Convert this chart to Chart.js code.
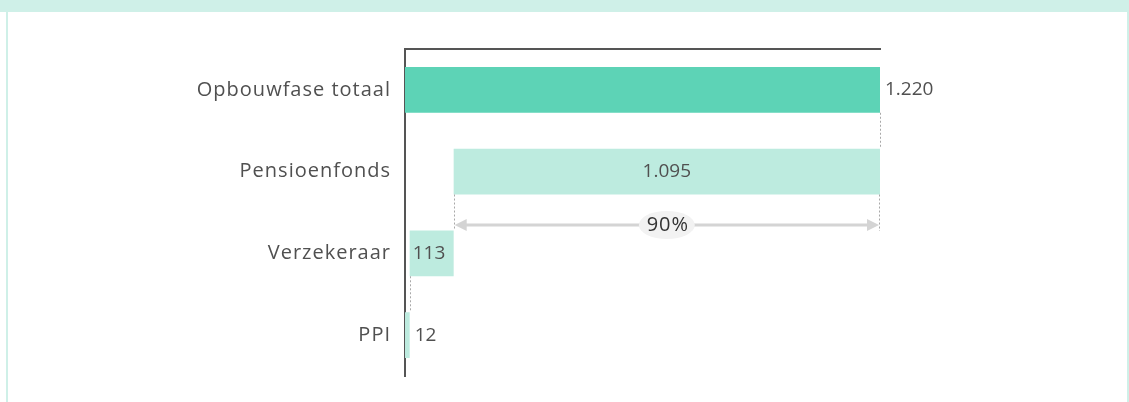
<!DOCTYPE html>
<html>
<head>
<meta charset="utf-8">
<script src="https://cdn.jsdelivr.net/npm/chart.js@4/dist/chart.umd.min.js"></script>
<style>
  html, body { margin: 0; padding: 0; background: #ffffff; }
  #wrap { position: relative; width: 1129px; height: 402px; overflow: hidden; }
  .band { position: absolute; background: #cff0e8; }
  #top { left: 0; top: 0; width: 1129px; height: 12px; }
  #left { left: 6px; top: 12px; width: 2px; height: 390px; }
  #right { left: 1127px; top: 12px; width: 2px; height: 390px; }
  canvas { position: absolute; left: 0; top: 0; }
</style>
</head>
<body>
<div id="wrap">
  <div class="band" id="top"></div>
  <div class="band" id="left"></div>
  <div class="band" id="right"></div>
  <canvas id="chart" width="1129" height="402"></canvas>
</div>
<script>
// Pension capital by provider, accumulation phase (waterfall)
const categories = ['Opbouwfase totaal', 'Pensioenfonds', 'Verzekeraar', 'PPI'];
const values = [1220, 1095, 113, 12];
const isTotal = [true, false, false, false];

const totalColor = '#5dd3b6';
const partColor = '#bdebdf';
const textColor = '#505050';
const fontFamily = "'Open Sans', 'DejaVu Sans', sans-serif";

// Floating ranges: the total starts at zero, each part sits on the parts below it
const ranges = values.map((v, i) => {
  if (isTotal[i]) return [0, v];
  let start = 0;
  for (let j = i + 1; j < values.length; j++) start += values[j];
  return [start, start + v];
});

function formatNL(n) {
  return String(Math.round(n)).replace(/\B(?=(\d{3})+(?!\d))/g, '.');
}

// wide, airy lettering for the category labels
const spacing = {
  id: 'spacing',
  beforeDraw(chart) { chart.ctx.letterSpacing = '1px'; },
  afterDraw(chart) { chart.ctx.letterSpacing = '0px'; }
};

const waterfallExtras = {
  id: 'waterfallExtras',
  afterDatasetsDraw(chart) {
    const ctx = chart.ctx;
    const meta = chart.getDatasetMeta(0);
    const x = chart.scales.x;
    const bars = meta.data;

    ctx.save();
    ctx.letterSpacing = '0px';
    // dotted connectors between consecutive bars
    ctx.strokeStyle = '#a8a8a8';
    ctx.lineWidth = 1;
    ctx.setLineDash([2, 2]);
    for (let i = 0; i < bars.length - 1; i++) {
      const a = bars[i], b = bars[i + 1];
      const aBottom = a.y + a.height / 2;
      const bTop = b.y - b.height / 2;
      const xv = isTotal[i] ? ranges[i][1] : ranges[i][0];
      const px = Math.round(x.getPixelForValue(xv)) + 0.5;
      ctx.beginPath();
      ctx.moveTo(px, aBottom);
      ctx.lineTo(px, bTop);
      ctx.stroke();
    }

    // share of the largest part in the total
    const part = 1;
    const pb = bars[part];
    const pBottom = pb.y + pb.height / 2;
    const nextTop = bars[part + 1].y - bars[part + 1].height / 2;
    const ay = Math.round(pBottom + (nextTop - pBottom) * 0.86);
    const x0 = x.getPixelForValue(ranges[part][0]);
    const x1 = x.getPixelForValue(ranges[part][1]);
    const rx = Math.round(x1) - 0.5;
    ctx.beginPath();
    ctx.moveTo(rx, pBottom);
    ctx.lineTo(rx, ay + 6);
    ctx.stroke();
    ctx.setLineDash([]);

    ctx.strokeStyle = '#d4d4d4';
    ctx.fillStyle = '#d4d4d4';
    ctx.lineWidth = 3;
    ctx.beginPath();
    ctx.moveTo(x0 + 8, ay);
    ctx.lineTo(x1 - 8, ay);
    ctx.stroke();
    ctx.beginPath();
    ctx.moveTo(x0 + 1, ay);
    ctx.lineTo(x0 + 13, ay - 6);
    ctx.lineTo(x0 + 13, ay + 6);
    ctx.closePath();
    ctx.fill();
    ctx.beginPath();
    ctx.moveTo(x1 - 1, ay);
    ctx.lineTo(x1 - 13, ay - 6);
    ctx.lineTo(x1 - 13, ay + 6);
    ctx.closePath();
    ctx.fill();

    const pct = Math.round(values[part] / values[0] * 100) + '%';
    const cx = (x0 + x1) / 2;
    ctx.fillStyle = '#f2f2f2';
    ctx.beginPath();
    ctx.ellipse(cx, ay, 28, 14, 0, 0, Math.PI * 2);
    ctx.fill();
    ctx.fillStyle = '#333333';
    ctx.font = '20px ' + fontFamily;
    ctx.letterSpacing = '1px';
    ctx.textAlign = 'center';
    ctx.textBaseline = 'middle';
    ctx.fillText(pct, cx + 1, ay);
    ctx.letterSpacing = '0px';

    // value labels
    ctx.fillStyle = textColor;
    ctx.font = '19px ' + fontFamily;
    ctx.textBaseline = 'middle';
    bars.forEach((bar, i) => {
      const txt = formatNL(values[i]);
      const left = x.getPixelForValue(ranges[i][0]);
      const right = x.getPixelForValue(ranges[i][1]);
      const w = right - left;
      const tw = ctx.measureText(txt).width;
      if (isTotal[i] || w < tw + 8) {
        ctx.textAlign = 'left';
        ctx.fillText(txt, right + 5, bar.y);
      } else if (w > tw * 3) {
        ctx.textAlign = 'center';
        ctx.fillText(txt, (left + right) / 2, bar.y);
      } else {
        ctx.textAlign = 'left';
        ctx.fillText(txt, left + 3, bar.y);
      }
    });
    ctx.restore();
  }
};

new Chart(document.getElementById('chart'), {
  type: 'bar',
  data: {
    labels: categories,
    datasets: [{
      data: ranges,
      backgroundColor: isTotal.map(t => t ? totalColor : partColor),
      borderWidth: 0,
      borderSkipped: false,
      barPercentage: 0.56,
      categoryPercentage: 1
    }]
  },
  options: {
    indexAxis: 'y',
    responsive: false,
    animation: false,
    layout: { padding: { top: 0, right: 249, bottom: 22, left: 0 } },
    plugins: { legend: { display: false }, tooltip: { enabled: false } },
    scales: {
      x: {
        type: 'linear',
        position: 'top',
        min: 0,
        max: values[0],
        grid: { display: false, drawTicks: false },
        ticks: { display: false },
        border: { display: true, color: '#555555', width: 2 },
        afterFit(scale) { scale.height = 49; }
      },
      y: {
        grid: { display: false, drawTicks: false },
        ticks: {
          color: textColor,
          padding: 14,
          font: { family: fontFamily, size: 20 }
        },
        border: { display: true, color: '#555555', width: 2 },
        afterFit(scale) { scale.width = 405; }
      }
    }
  },
  plugins: [spacing, waterfallExtras]
});
</script>
</body>
</html>
